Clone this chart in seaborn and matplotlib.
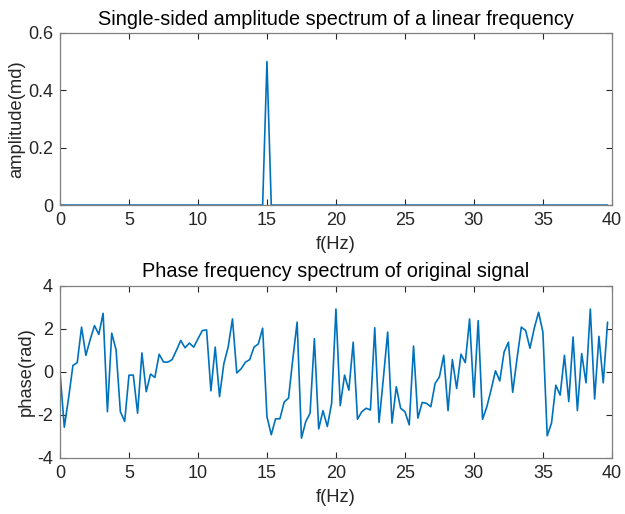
import numpy as np
import pandas as pd
import matplotlib
matplotlib.use("Agg")
import matplotlib.pyplot as plt
import seaborn as sns

# ---- data ----
freq_step = 0.3125          # Hz between samples (fs=80, N=256)
n_points = 128
amplitude = [0.0] * 48 + [0.5] + [0.0] * 79
phase = [
    0.0, -2.57, -1.2, 0.3, 0.43, 2.08, 0.77, 1.5, 2.15, 1.74,
    2.72, -1.85, 1.8, 1.03, -1.85, -2.3, -0.15, -0.15, -1.92, 0.88,
    -0.92, -0.1, -0.26, 0.82, 0.46, 0.45, 0.57, 1.0, 1.46, 1.12,
    1.34, 1.15, 1.54, 1.92, 1.95, -0.88, 1.15, -1.15, 0.38, 1.15,
    2.46, -0.05, 0.14, 0.45, 0.57, 1.15, 1.3, 2.03, -2.08, -2.92,
    -2.18, -2.18, -1.4, -1.22, 0.6, 2.31, -3.08, -2.31, -1.92, 1.54,
    -2.65, -1.8, -2.54, -1.46, 2.92, -1.57, -0.15, -0.85, 1.38, -2.2,
    -1.85, -1.69, -1.77, 2.05, -2.35, -0.3, 1.85, -2.38, -0.69, -1.69,
    -1.85, -2.46, 1.2, -2.15, -1.42, -1.46, -1.62, -0.54, -0.23, 0.77,
    -1.8, 0.57, -0.77, 0.82, 0.43, 2.46, -1.18, 2.38, -2.2, -1.62,
    -0.82, 0.05, -0.42, 0.92, 1.38, -0.95, 0.62, 2.08, 1.92, 1.1,
    2.03, 2.77, 1.85, -2.97, -2.38, -0.62, -1.08, 0.77, -1.38, 1.62,
    -1.8, 0.85, -0.51, 2.92, -1.26, 1.65, -0.51, 2.31,
]
freqs = np.arange(n_points) * freq_step

titles = ["Single-sided amplitude spectrum of a linear frequency",
          "Phase frequency spectrum of original signal"]
ylabels = ["amplitude(md)", "phase(rad)"]
xlabel = "f(Hz)"
x_ticks = [0, 5, 10, 15, 20, 25, 30, 35, 40]
y_ticks_top = [0, 0.2, 0.4, 0.6]
y_ticks_bottom = [-4, -2, 0, 2, 4]

df = pd.DataFrame({"f": freqs, "amp": amplitude, "phase": phase})

sns.set_theme(style="white")
plt.rcParams["font.family"] = ["Liberation Sans", "DejaVu Sans"]

line_color = "#0072BD"
axis_color = "#262626"

fig = plt.figure(figsize=(6.25, 5.14), dpi=100)
ax1 = fig.add_axes([0.096, 0.601, 0.883, 0.335])
ax2 = fig.add_axes([0.096, 0.109, 0.883, 0.335])

sns.lineplot(data=df, x="f", y="amp", ax=ax1, color=line_color, lw=1.2)
sns.lineplot(data=df, x="f", y="phase", ax=ax2, color=line_color, lw=1.2)

for ax, title, ylab, yt in [(ax1, titles[0], ylabels[0], y_ticks_top),
                            (ax2, titles[1], ylabels[1], y_ticks_bottom)]:
    ax.set_xlim(0, 40)
    ax.set_ylim(yt[0], yt[-1])
    ax.set_xticks(x_ticks)
    ax.set_yticks(yt)
    ax.set_yticklabels([f"{v:g}" for v in yt])
    ax.set_title(title, fontsize=14.3, color="#000000", pad=6)
    ax.set_xlabel(xlabel, fontsize=13.2, color=axis_color, labelpad=5)
    ax.set_ylabel(ylab, fontsize=13.2, color=axis_color, labelpad=2)
    ax.tick_params(direction="in", length=4, width=0.8, colors=axis_color,
                   labelsize=13, top=True, right=True, bottom=True, left=True,
                   labelcolor=axis_color, pad=5)
    for s in ax.spines.values():
        s.set_visible(True)
        s.set_color("#7f7f7f")
        s.set_linewidth(0.9)
    ax.set_facecolor("white")

fig.savefig("out.png", dpi=100, facecolor="white")
